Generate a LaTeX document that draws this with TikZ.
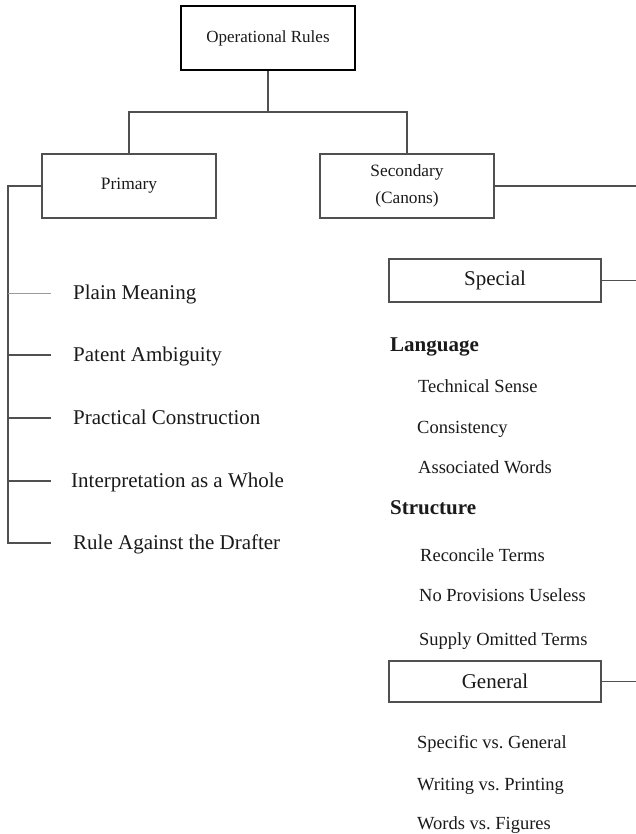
\documentclass[tikz,border=0pt]{standalone}
\usepackage{fontspec}
\setmainfont{Liberation Serif}
\frenchspacing
\definecolor{linegray}{HTML}{505050}
\definecolor{lightgray2}{HTML}{9A9A9A}
\definecolor{ink}{HTML}{1A1A1A}
\begin{document}
\begin{tikzpicture}[x=1pt,y=-1pt,
  box/.style={draw=linegray, line width=1.2pt, inner sep=0pt, align=center, text=ink},
  conn/.style={draw=linegray, line width=1.1pt},
  item/.style={anchor=base west, inner sep=0pt, text=ink, font=\fontsize{21}{25}\selectfont},
  ritem/.style={anchor=base west, inner sep=0pt, text=ink, font=\fontsize{18.5}{22}\selectfont},
  head/.style={anchor=base west, inner sep=0pt, text=ink, font=\fontsize{21}{25}\selectfont\bfseries}]
\useasboundingbox (0,0) rectangle (636,834);
\fill[white] (0,0) rectangle (636,834);

% boxes
\node[box, draw=black, line width=2pt, minimum width=174pt, minimum height=64pt,
      font=\fontsize{17}{20}\selectfont] (top) at (268,38) {Operational Rules};
\node[box, minimum width=174pt, minimum height=64pt, font=\fontsize{17.4}{21}\selectfont]
      (primary) at (129,186) {Primary};
\node[box, minimum width=174pt, minimum height=64pt, font=\fontsize{17.3}{27}\selectfont]
      (secondary) at (407,186) {\raisebox{-4pt}{Secondary}\\\raisebox{-4pt}{(Canons)}};
\node[box, minimum width=212pt, minimum height=43pt, font=\fontsize{21}{25}\selectfont]
      (special) at (495,280.5) {Special};
\node[box, minimum width=212pt, minimum height=41pt, font=\fontsize{21}{25}\selectfont]
      (general) at (495,681.5) {General};

% tree connectors
\coordinate (jn) at (268,112);
\draw[conn] (top.south) -- (jn);
\draw[conn] (primary.north) |- (jn) -| (secondary.north);

% primary list
\coordinate (ptop) at (8,186);
\coordinate (t1) at (8,293);  \coordinate (e1) at (51,293);
\coordinate (t2) at (8,355);  \coordinate (e2) at (51,355);
\coordinate (t3) at (8,418);  \coordinate (e3) at (51,418);
\coordinate (t4) at (8,481);  \coordinate (e4) at (51,481);
\coordinate (t5) at (8,543);  \coordinate (e5) at (51,543);
\draw[conn] (primary.west) -- (ptop) -- (t5) -- (e5);
\draw[draw=lightgray2, line width=1pt] (t1) -- (e1);
\draw[conn] (t2) -- (e2);
\draw[conn] (t3) -- (e3);
\draw[conn] (t4) -- (e4);

\node[item] (plain) at (73,299.5) {Plain Meaning};
\node[item] (patent) at (73,361.5) {Patent Ambiguity};
\node[item] (practical) at (73,424.5) {Practical Construction};
\node[item] (whole) at (71,487.5) {Interpretation as a Whole};
\node[item] (drafter) at (73,549.5) {Rule Against the Drafter};

% right stubs
\coordinate (sR) at (636,186);
\coordinate (spR) at (636,280.5);
\coordinate (gR) at (636,681.5);
\draw[conn] (secondary.east) -- (sR);
\draw[conn] (special.east) -- (spR);
\draw[conn] (general.east) -- (gR);

% secondary lists
\node[head] (lang) at (390,351) {Language};
\node[ritem] (tech) at (418,392) {Technical Sense};
\node[ritem] (cons) at (417,433) {Consistency};
\node[ritem] (assoc) at (418,473) {Associated Words};
\node[head] (struct) at (390,514) {Structure};
\node[ritem] (recon) at (420,561) {Reconcile Terms};
\node[ritem] (noprov) at (419,601) {No Provisions Useless};
\node[ritem] (supply) at (419,645) {Supply Omitted Terms};
\node[ritem] (spec) at (417,748) {Specific vs. General};
\node[ritem] (writ) at (417,790) {Writing vs. Printing};
\node[ritem] (words) at (417,829) {Words vs. Figures};
\end{tikzpicture}
\end{document}
